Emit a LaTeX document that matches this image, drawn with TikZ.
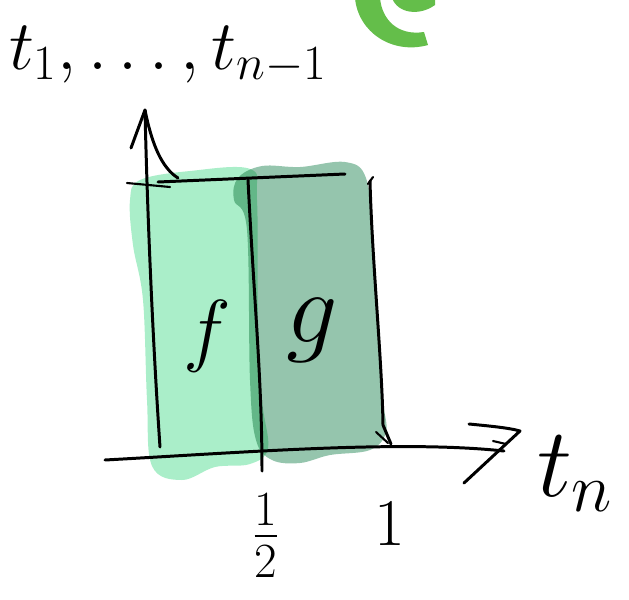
\RequirePackage{fix-cm}
\documentclass[tikz,border=0pt]{standalone}
\usepackage{amsmath}
\usepackage{tikz}
\usetikzlibrary{arrows.meta,positioning}
\definecolor{lightblob}{HTML}{AAEEC9}
\definecolor{darkblob}{HTML}{95C5AD}
\definecolor{curlgreen}{HTML}{64BE4A}
\newcommand{\handsize}[1]{\fontsize{#1}{#1}\selectfont}

\begin{document}
\begin{tikzpicture}[
    x=0.02cm, y=-0.02cm,
    every node/.style={inner sep=0pt},
    pen/.style={line width=1.7pt, line cap=round, line join=round},
    thinpen/.style={line width=1.2pt, line cap=round},
    axislabel/.style={font=\handsize{40}},
    ticklabel/.style={font=\handsize{40}},
    regionlabel/.style={font=\handsize{46}},
    blobf/.style={fill=lightblob},
    blobg/.style={fill=darkblob, blend mode=multiply}
]
\useasboundingbox (0,0) rectangle (629,599);
\clip (0,0) rectangle (629,599);

% green curl cut off at the top
\fill[curlgreen] (355,-2) .. controls (358,32) and (392,55) .. (428,45) -- (424,32) .. controls (398,36) and (382,20) .. (380,-2) -- cycle;
\fill[curlgreen] (392,-2) .. controls (398,14) and (420,16) .. (435,5) -- (435,-2) -- cycle;

% regions
\fill[blobf] plot[smooth cycle, tension=0.6] coordinates {(140,180) (190,171) (250,169) (257,200) (258,320) (262,400) (268,448) (250,464) (215,467) (182,480) (152,466) (147,400) (143,300) (133,245) (130,200)};
\begin{scope}[blend mode=multiply]
\fill[blobg] plot[smooth cycle, tension=0.6] coordinates {(238,178) (262,166) (300,167) (345,162) (366,178) (373,240) (378,330) (383,400) (386,432) (370,450) (330,455) (300,463) (272,460) (256,440) (250,380) (247,230) (234,200)};
\end{scope}

% axes
\coordinate (ybase) at (160,447);
\coordinate (ytip) at (145,110);
\coordinate (yleft) at (131,148);
\coordinate (yright) at (178,178);
\coordinate (xbase) at (105,460);
\coordinate (xtip) at (504,451);
\coordinate (xtop) at (469,424);
\coordinate (xcorner) at (520,431);
\coordinate (xlow) at (464,483);

\draw[pen] (ybase) .. controls (152,330) and (147,200) .. (ytip);
\draw[pen] (yleft) -- (ytip) .. controls (152,145) and (162,168) .. (yright);
\draw[pen] (xbase) .. controls (250,452) and (400,440) .. (xtip);
\draw[pen] (xtop) .. controls (490,426) and (510,428) .. (xcorner) -- (xlow);
\draw[thinpen] (493,441) -- (506,444);

% top edge and splits
\coordinate (topleft) at (158,182);
\coordinate (topright) at (345,174);
\coordinate (midtop) at (248,180);
\coordinate (midbot) at (262,471);
\coordinate (righttop) at (370,181);
\coordinate (rightbot) at (391,444);
\draw[thinpen] (127,183) -- (170,187);
\draw[pen] (topleft) -- (topright);
\draw[pen] (midtop) .. controls (254,300) and (262,380) .. (midbot);
\draw[pen] (righttop) .. controls (372,260) and (382,360) .. (383,425) -- (rightbot);
\draw[thinpen] (376,432) -- (388,443);
\draw[thinpen] (373,177) -- (368,184);

% labels
\node[axislabel] (ylabel) at (168,55) {$t_1,\dots,t_{n-1}$};
\node[axislabel, font=\handsize{56}] (xlabel) at (575,474) {$t_n$};
\node[regionlabel] (flabel) at (207,336) {$f$};
\node[regionlabel, font=\handsize{58}] (glabel) at (312,330) {$g$};
\node[ticklabel] (halflabel) at (266,536) {$\frac{1}{2}$};
\node[ticklabel, font=\handsize{38}] (onelabel) at (390,524) {$1$};
\end{tikzpicture}
\end{document}
